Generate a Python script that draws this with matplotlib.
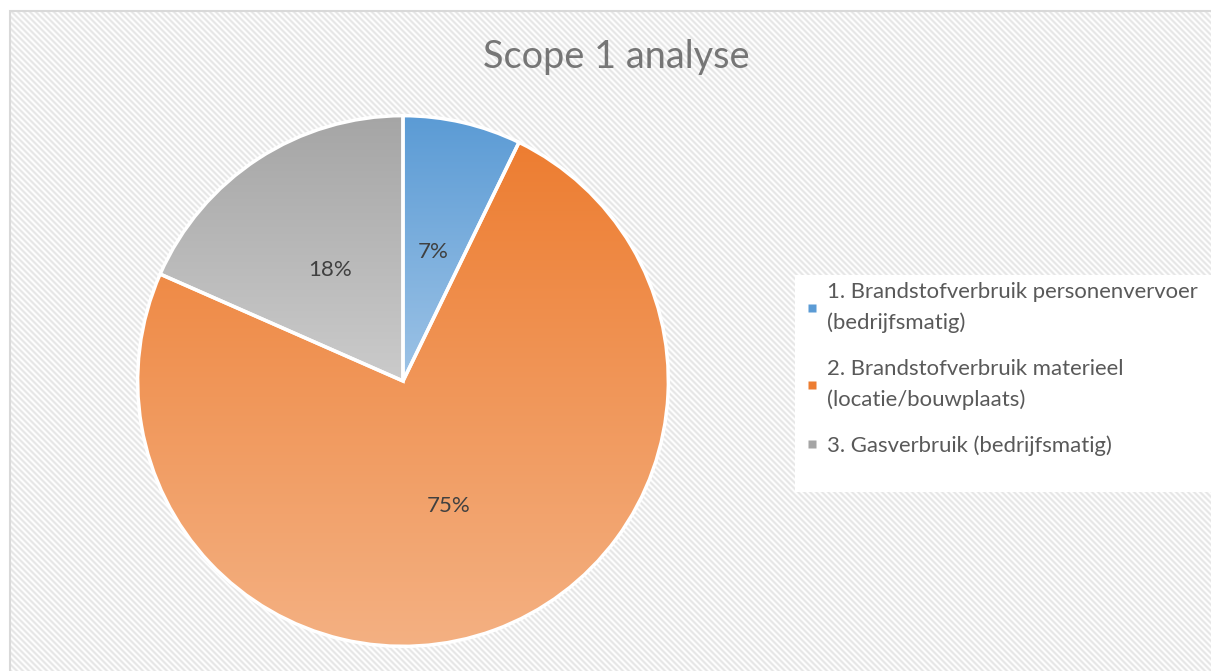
import numpy as np
import matplotlib
matplotlib.use("Agg")
import matplotlib.pyplot as plt
from matplotlib.colors import LinearSegmentedColormap
from matplotlib.patches import Rectangle
from matplotlib.lines import Line2D

plt.rcParams['font.family'] = ['Lato', 'DejaVu Sans']

# ---- data ----
categories = ["1. Brandstofverbruik personenvervoer\n(bedrijfsmatig)",
              "2. Brandstofverbruik materieel\n(locatie/bouwplaats)",
              "3. Gasverbruik (bedrijfsmatig)"]
values = [7.2, 74.4, 18.4]
pct_labels = ["7%", "75%", "18%"]
title = "Scope 1 analyse"
top_colors = ["#5B9BD5", "#ED7D31", "#A5A5A5"]
bottom_colors = ["#9DC3E6", "#F4B183", "#CBCBCB"]

W, H = 1211, 671
fig = plt.figure(figsize=(W / 100, H / 100), dpi=100)

# ---- hatched background ----
yy, xx = np.mgrid[0:H, 0:W]
stripe = 0.5 + 0.5 * np.cos(2 * np.pi * (xx - yy) / 6.0)
val = 1.0 - 0.10 * stripe
img = np.dstack([val, val, val])
img[:10, :, :] = 1.0
img[:, :10, :] = 1.0
fig.figimage(img, 0, 0, origin='upper', zorder=-10)

fig.patches.append(Rectangle((10.5 / W, -0.1), 1.2, (H - 10.5) / H + 0.1,
                             transform=fig.transFigure, fill=False,
                             edgecolor='#D9D9D9', linewidth=1.5, zorder=-5))

# ---- pie ----
cx, cy, r = 403, H - 381, 268
ax = fig.add_axes([(cx - r) / W, (cy - r) / H, 2 * r / W, 2 * r / H])
ax.set_zorder(2)
ax.patch.set_alpha(0)
lab_iter = iter(pct_labels)
wedges, texts, autotexts = ax.pie(
    values, startangle=90, counterclock=False, radius=1,
    wedgeprops=dict(edgecolor='white', linewidth=2.5),
    autopct=lambda p: next(lab_iter), pctdistance=0.5,
    textprops=dict(fontsize=16, color='#404040'))
for w, tc, bc in zip(wedges, top_colors, bottom_colors):
    v = w.get_path().vertices
    x0, x1 = v[:, 0].min(), v[:, 0].max()
    y0, y1 = v[:, 1].min(), v[:, 1].max()
    cmap = LinearSegmentedColormap.from_list('g', [tc, bc])
    grad = np.linspace(0, 1, 256).reshape(-1, 1)
    im = ax.imshow(grad, extent=[x0, x1, y0, y1], origin='upper', cmap=cmap,
                   aspect='auto', zorder=1.5, interpolation='bilinear')
    im.set_clip_path(w)
    w.set_facecolor('none')
    w.set_zorder(2)
for t in autotexts:
    t.set_zorder(3)
ax.set_xlim(-1.01, 1.01)
ax.set_ylim(-1.01, 1.01)
ax.set_aspect('equal')
ax.axis('off')

# ---- title ----
fig.text(616 / W, (H - 57) / H, title, ha='center', va='center',
         fontsize=27.3, color='#767676')

# ---- legend ----
fig.patches.append(Rectangle((795 / W, (H - 492) / H), (W - 795) / W + 0.01, (492 - 275) / H,
                             transform=fig.transFigure, facecolor='white',
                             edgecolor='none', zorder=-1))
handles = [Line2D([], [], linestyle='none', marker='s', markersize=5.5,
                  markerfacecolor=tc, markeredgecolor='none') for tc in top_colors]
leg = fig.legend(handles, categories, loc='upper left',
                 bbox_to_anchor=(784 / W, (H - 262) / H), frameon=False,
                 fontsize=15.9, labelcolor='#595959', handlelength=0.7,
                 handletextpad=0.35, labelspacing=1.15)
for t in leg.get_texts():
    t.set_linespacing(1.65)

fig.savefig('out.png', dpi=100)
